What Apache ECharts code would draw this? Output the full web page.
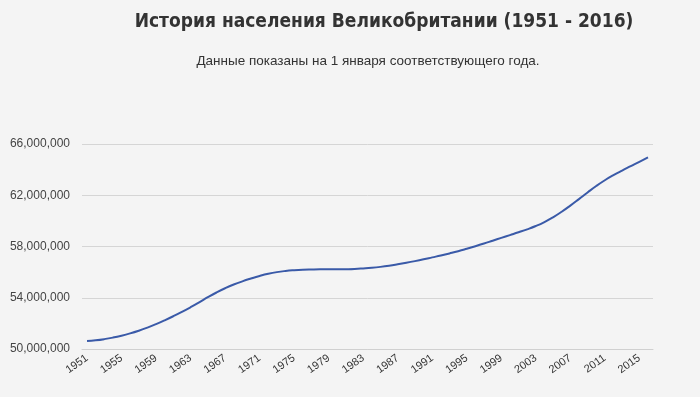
<!DOCTYPE html>
<html>
<head>
<meta charset="utf-8">
<script src="https://cdn.jsdelivr.net/npm/echarts@6/dist/echarts.min.js"></script>
<style>
  html, body { margin: 0; padding: 0; background: #f4f4f4; }
  #chart { width: 700px; height: 397px; }
</style>
</head>
<body>
<div id="chart"></div>
<script>
// годы (1 января)
var years = [];
for (var y = 1951; y <= 2016; y++) years.push(y);

// население, млн
var popMln = [
  50.62, 50.68, 50.77, 50.89, 51.04, 51.22, 51.43, 51.67, 51.94, 52.24,
  52.56, 52.90, 53.26, 53.64, 54.04, 54.41, 54.74, 55.03, 55.28, 55.50,
  55.70, 55.87, 56.00, 56.09, 56.15, 56.19, 56.21, 56.22, 56.22, 56.22,
  56.23, 56.25, 56.29, 56.34, 56.41, 56.50, 56.61, 56.73, 56.86, 57.00,
  57.15, 57.30, 57.46, 57.63, 57.82, 58.02, 58.23, 58.45, 58.67, 58.89,
  59.11, 59.34, 59.60, 59.91, 60.28, 60.71, 61.19, 61.70, 62.22, 62.72,
  63.17, 63.57, 63.93, 64.27, 64.61, 64.96
];

// подписи оси X
var xLabelYears = [];
for (var k = 1951; k <= 2015; k += 4) xLabelYears.push(k);

var yTicks = { min: 50000000, max: 66000000, step: 4000000 };

function fmt(n) {
  return String(n).replace(/\B(?=(\d{3})+(?!\d))/g, ',');
}

var seriesData = years.map(function (yr, i) { return [yr, Math.round(popMln[i] * 1e6)]; });

var chart = echarts.init(document.getElementById('chart'));
chart.setOption({
  backgroundColor: '#f4f4f4',
  animation: false,
  title: [{
    text: 'История населения Великобритании (1951 - 2016)',
    left: 379, top: 8, textAlign: 'center',
    textStyle: { fontFamily: 'DejaVu Sans Condensed', fontWeight: 'bold', fontSize: 19, color: '#333' }
  }, {
    text: 'Данные показаны на 1 января соответствующего года.',
    left: 363, top: 49, textAlign: 'center',
    textStyle: { fontFamily: 'Liberation Sans', fontWeight: 'normal', fontSize: 13.5, color: '#333' }
  }],
  grid: { left: 82, right: 47, top: 144, bottom: 48 },
  xAxis: {
    type: 'value',
    min: 1950.42, max: 2016.58,
    splitLine: { show: false },
    axisLine: { show: true, onZero: false, lineStyle: { color: '#d0d0d0' } },
    axisTick: { show: false },
    axisLabel: {
      customValues: xLabelYears, rotate: 35, margin: 8,
      fontFamily: 'Liberation Sans', fontSize: 11, color: '#333',
      formatter: function (v) { return String(v); }
    }
  },
  yAxis: {
    type: 'value',
    min: yTicks.min, max: yTicks.max, interval: yTicks.step,
    axisLine: { show: false },
    axisTick: { show: false },
    axisLabel: {
      margin: 12, formatter: fmt,
      fontFamily: 'Liberation Sans', fontSize: 12, color: '#444'
    },
    splitLine: { lineStyle: { color: '#d5d5d5', width: 1 } }
  },
  series: [{
    type: 'line',
    data: seriesData,
    smooth: true,
    showSymbol: false,
    lineStyle: { color: '#3a5aa8', width: 2 }
  }]
});
</script>
</body>
</html>
